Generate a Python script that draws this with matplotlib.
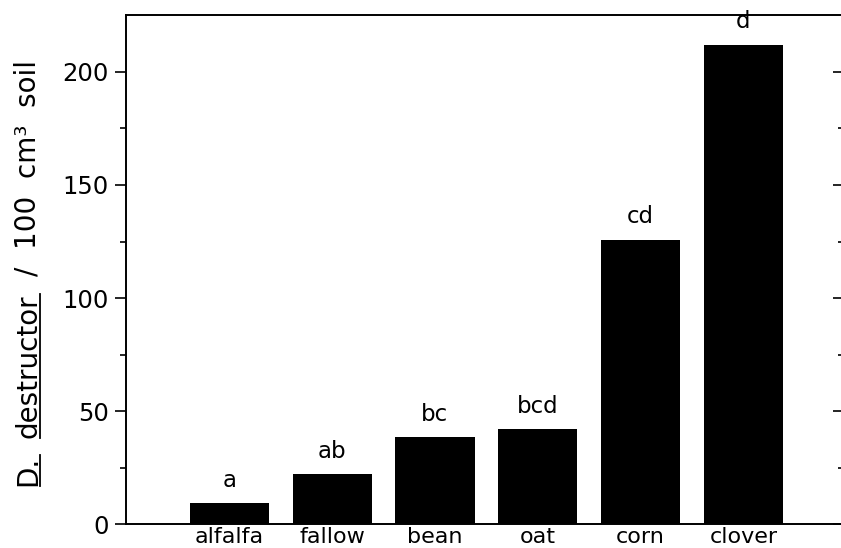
import matplotlib
matplotlib.use("Agg")
import matplotlib.pyplot as plt
from matplotlib.lines import Line2D

crops = ["alfalfa", "fallow", "bean", "oat", "corn", "clover"]
counts = [9.3, 22.1, 38.4, 42.0, 125.6, 211.8]
letters = ["a", "ab", "bc", "bcd", "cd", "d"]

W, H = 841, 548
fig = plt.figure(figsize=(W / 100, H / 100), dpi=100)
ax = fig.add_axes([125.5 / W, 1 - 524.3 / H, 1 - 125.5 / W, (524.3 - 15.3) / H])

x = list(range(len(crops)))
ax.bar(x, counts, width=0.77, color="black")
for xi, v, s in zip(x, counts, letters):
    ax.annotate(s, (xi, v), xytext=(0, 12), textcoords="offset points",
                ha="center", va="baseline", fontsize=16.5)

ax.set_xlim(-1.01, 5.95)
ax.set_ylim(0, 225)
ax.set_xticks(x)
ax.set_xticklabels(crops, fontsize=16)
ax.tick_params(axis="x", length=0, pad=2)
ax.set_yticks([0, 50, 100, 150, 200])
ax.set_yticks([25, 75, 125, 175], minor=True)
ax.tick_params(axis="y", which="major", direction="out", length=8, width=1.2,
               labelsize=17.5, pad=4)
ax.tick_params(axis="y", which="minor", direction="out", length=4, width=1.2)
ax.spines["right"].set_visible(False)
for sp in ["left", "bottom", "top"]:
    ax.spines[sp].set_linewidth(1.4)

# ticks on the right edge, pointing inwards
ax2 = ax.twinx()
ax2.set_ylim(ax.get_ylim())
ax2.set_yticks([0, 50, 100, 150, 200])
ax2.set_yticks([25, 75, 125, 175], minor=True)
ax2.tick_params(axis="y", which="major", direction="in", length=6, width=1.2,
                labelright=False)
ax2.tick_params(axis="y", which="minor", direction="in", length=2, width=1.2)
for sp in ax2.spines.values():
    sp.set_visible(False)

# y label with underlined species name
renderer = fig.canvas.get_renderer()
pieces = [("D.", True), ("destructor", True), ("/  100  cm³  soil", False)]
fs = 20
lx = 28
probe = fig.text(0, 0, "a a", fontsize=fs)
gap = (probe.get_window_extent(renderer).width
       - fig.text(0, 0, "aa", fontsize=fs).get_window_extent(renderer).width) * 2.0
for t in fig.texts[-2:]:
    t.remove()

texts = []
for s, ul in pieces:
    t = fig.text(lx / W, 0, s, rotation=90, ha="center", va="bottom", fontsize=fs)
    texts.append((t, ul))
total = sum(t.get_window_extent(renderer).height for t, _ in texts) + gap * (len(texts) - 1)
y = (H - 273) - total / 2
for t, ul in texts:
    t.set_y(y / H)
    bb = t.get_window_extent(renderer)
    if ul:
        ux = bb.x1 - 2
        fig.add_artist(Line2D([ux / W, ux / W], [bb.y0 / H, bb.y1 / H],
                              transform=fig.transFigure, color="black", lw=1.3))
    y = bb.y1 + gap

fig.savefig("out.png", dpi=100)
